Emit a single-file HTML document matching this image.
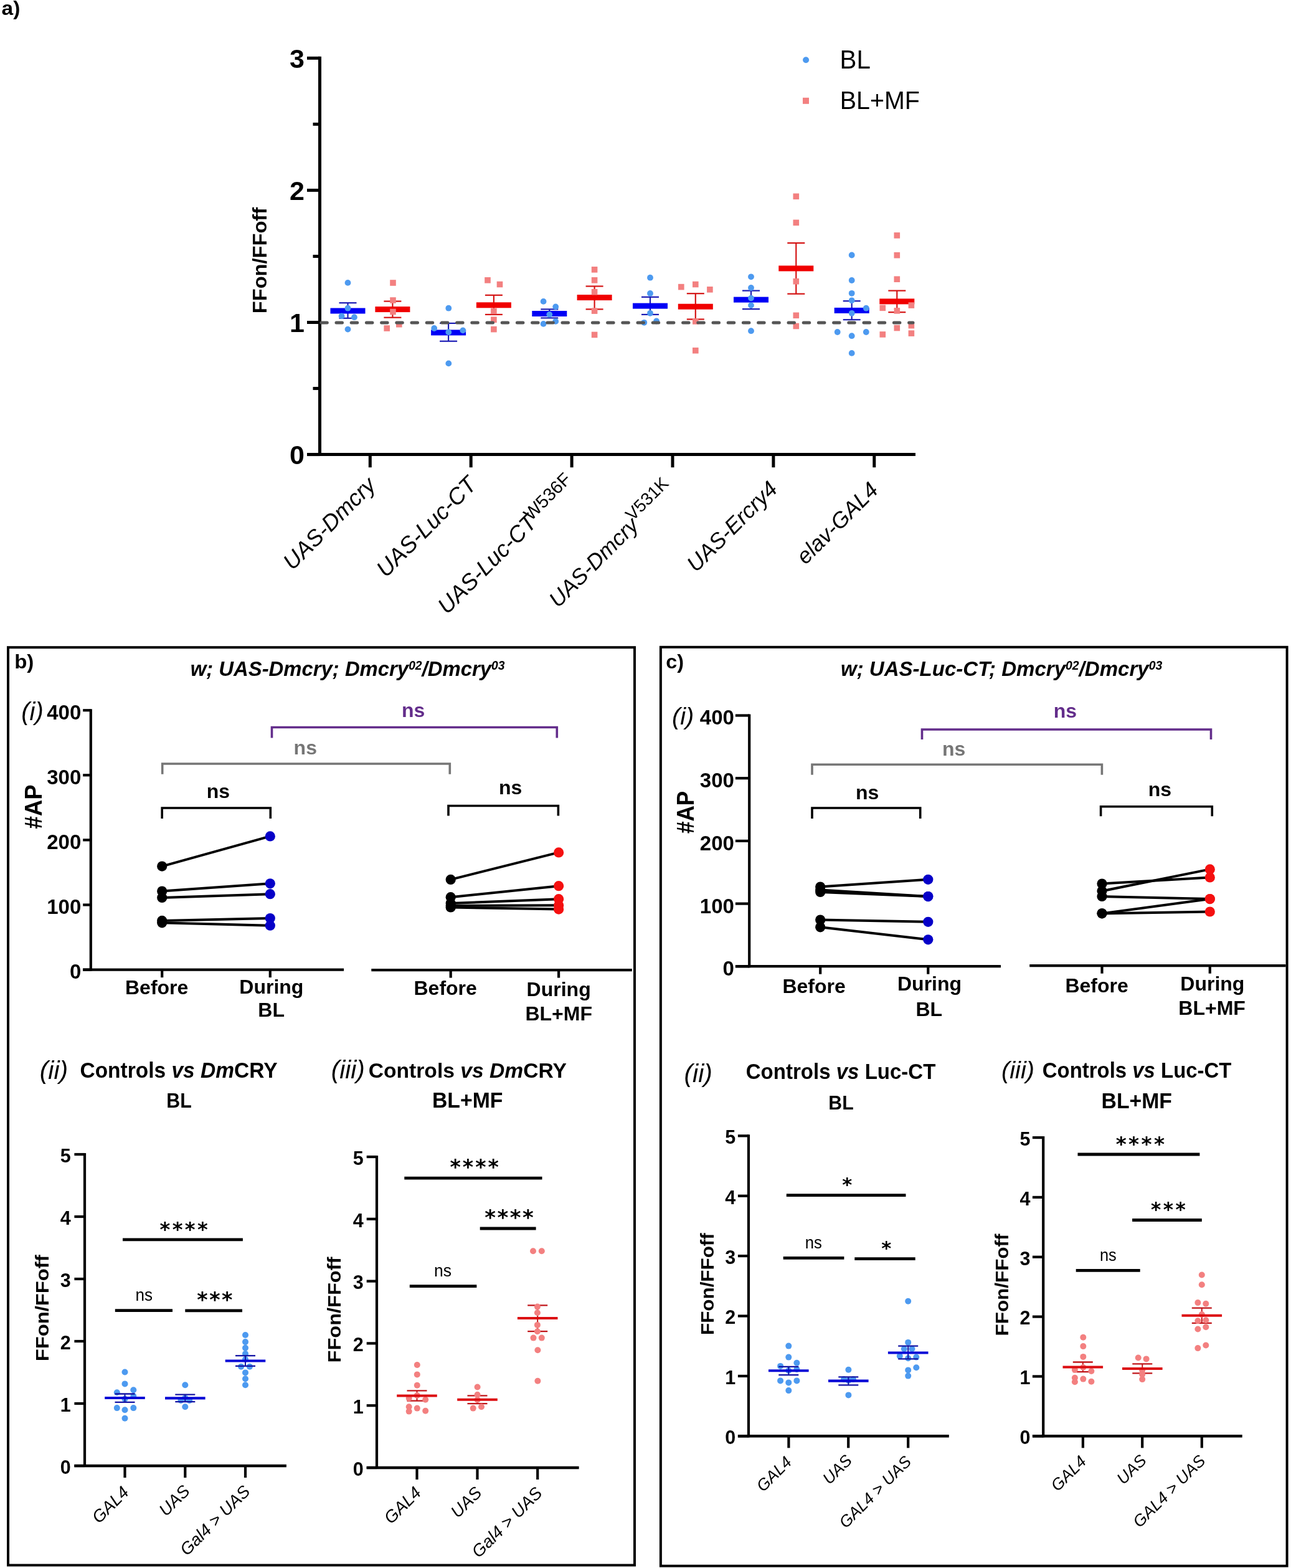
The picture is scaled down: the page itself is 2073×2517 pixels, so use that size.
<!DOCTYPE html>
<html><head><meta charset="utf-8"><title>Figure</title><style>html,body{margin:0;padding:0;background:#fff;overflow:hidden;}svg{display:block;}text{white-space:pre;}</style></head><body>
<svg width="2073" height="2517" viewBox="0 0 2073 2517"><rect width="2073" height="2517" fill="#fff"/><g id="shapes"><line x1="513.50" y1="90.80" x2="513.50" y2="732.10" stroke="#000" stroke-width="5" stroke-linecap="butt" />
<line x1="493.00" y1="729.60" x2="513.50" y2="729.60" stroke="#000" stroke-width="5" stroke-linecap="butt" />
<line x1="493.00" y1="517.50" x2="513.50" y2="517.50" stroke="#000" stroke-width="5" stroke-linecap="butt" />
<line x1="493.00" y1="305.40" x2="513.50" y2="305.40" stroke="#000" stroke-width="5" stroke-linecap="butt" />
<line x1="493.00" y1="93.30" x2="513.50" y2="93.30" stroke="#000" stroke-width="5" stroke-linecap="butt" />
<line x1="502.50" y1="623.55" x2="513.50" y2="623.55" stroke="#000" stroke-width="5" stroke-linecap="butt" />
<line x1="502.50" y1="411.45" x2="513.50" y2="411.45" stroke="#000" stroke-width="5" stroke-linecap="butt" />
<line x1="502.50" y1="199.35" x2="513.50" y2="199.35" stroke="#000" stroke-width="5" stroke-linecap="butt" />
<line x1="493.20" y1="729.60" x2="1470.00" y2="729.60" stroke="#000" stroke-width="5" stroke-linecap="butt" />
<line x1="594.30" y1="729.60" x2="594.30" y2="750.30" stroke="#000" stroke-width="5" stroke-linecap="butt" />
<line x1="756.20" y1="729.60" x2="756.20" y2="750.30" stroke="#000" stroke-width="5" stroke-linecap="butt" />
<line x1="918.10" y1="729.60" x2="918.10" y2="750.30" stroke="#000" stroke-width="5" stroke-linecap="butt" />
<line x1="1080.00" y1="729.60" x2="1080.00" y2="750.30" stroke="#000" stroke-width="5" stroke-linecap="butt" />
<line x1="1241.90" y1="729.60" x2="1241.90" y2="750.30" stroke="#000" stroke-width="5" stroke-linecap="butt" />
<line x1="1403.80" y1="729.60" x2="1403.80" y2="750.30" stroke="#000" stroke-width="5" stroke-linecap="butt" />
<line x1="558.50" y1="486.20" x2="558.50" y2="510.80" stroke="#1a1ab4" stroke-width="2.2" stroke-linecap="butt" />
<line x1="544.50" y1="486.20" x2="572.50" y2="486.20" stroke="#1a1ab4" stroke-width="2.2" stroke-linecap="butt" />
<line x1="544.50" y1="510.80" x2="572.50" y2="510.80" stroke="#1a1ab4" stroke-width="2.2" stroke-linecap="butt" />
<rect x="530.50" y="494.50" width="56.00" height="9.00" fill="#0000f5"/>
<line x1="630.40" y1="483.60" x2="630.40" y2="509.70" stroke="#d41414" stroke-width="2.2" stroke-linecap="butt" />
<line x1="616.40" y1="483.60" x2="644.40" y2="483.60" stroke="#d41414" stroke-width="2.2" stroke-linecap="butt" />
<line x1="616.40" y1="509.70" x2="644.40" y2="509.70" stroke="#d41414" stroke-width="2.2" stroke-linecap="butt" />
<rect x="602.40" y="492.10" width="56.00" height="9.00" fill="#f00000"/>
<line x1="720.10" y1="518.90" x2="720.10" y2="547.70" stroke="#1a1ab4" stroke-width="2.2" stroke-linecap="butt" />
<line x1="706.10" y1="518.90" x2="734.10" y2="518.90" stroke="#1a1ab4" stroke-width="2.2" stroke-linecap="butt" />
<line x1="706.10" y1="547.70" x2="734.10" y2="547.70" stroke="#1a1ab4" stroke-width="2.2" stroke-linecap="butt" />
<rect x="692.10" y="529.40" width="56.00" height="9.00" fill="#0000f5"/>
<line x1="792.90" y1="473.80" x2="792.90" y2="504.90" stroke="#d41414" stroke-width="2.2" stroke-linecap="butt" />
<line x1="778.90" y1="473.80" x2="806.90" y2="473.80" stroke="#d41414" stroke-width="2.2" stroke-linecap="butt" />
<line x1="778.90" y1="504.90" x2="806.90" y2="504.90" stroke="#d41414" stroke-width="2.2" stroke-linecap="butt" />
<rect x="764.90" y="485.30" width="56.00" height="9.00" fill="#f00000"/>
<line x1="882.30" y1="496.40" x2="882.30" y2="510.40" stroke="#1a1ab4" stroke-width="2.2" stroke-linecap="butt" />
<line x1="868.30" y1="496.40" x2="896.30" y2="496.40" stroke="#1a1ab4" stroke-width="2.2" stroke-linecap="butt" />
<line x1="868.30" y1="510.40" x2="896.30" y2="510.40" stroke="#1a1ab4" stroke-width="2.2" stroke-linecap="butt" />
<rect x="854.30" y="499.00" width="56.00" height="9.00" fill="#0000f5"/>
<line x1="954.60" y1="459.50" x2="954.60" y2="496.40" stroke="#d41414" stroke-width="2.2" stroke-linecap="butt" />
<line x1="940.60" y1="459.50" x2="968.60" y2="459.50" stroke="#d41414" stroke-width="2.2" stroke-linecap="butt" />
<line x1="940.60" y1="496.40" x2="968.60" y2="496.40" stroke="#d41414" stroke-width="2.2" stroke-linecap="butt" />
<rect x="926.60" y="473.10" width="56.00" height="9.00" fill="#f00000"/>
<line x1="1044.00" y1="476.80" x2="1044.00" y2="504.90" stroke="#1a1ab4" stroke-width="2.2" stroke-linecap="butt" />
<line x1="1030.00" y1="476.80" x2="1058.00" y2="476.80" stroke="#1a1ab4" stroke-width="2.2" stroke-linecap="butt" />
<line x1="1030.00" y1="504.90" x2="1058.00" y2="504.90" stroke="#1a1ab4" stroke-width="2.2" stroke-linecap="butt" />
<rect x="1016.00" y="486.60" width="56.00" height="9.00" fill="#0000f5"/>
<line x1="1116.80" y1="471.20" x2="1116.80" y2="512.50" stroke="#d41414" stroke-width="2.2" stroke-linecap="butt" />
<line x1="1102.80" y1="471.20" x2="1130.80" y2="471.20" stroke="#d41414" stroke-width="2.2" stroke-linecap="butt" />
<line x1="1102.80" y1="512.50" x2="1130.80" y2="512.50" stroke="#d41414" stroke-width="2.2" stroke-linecap="butt" />
<rect x="1088.80" y="487.70" width="56.00" height="9.00" fill="#f00000"/>
<line x1="1206.00" y1="466.60" x2="1206.00" y2="496.10" stroke="#1a1ab4" stroke-width="2.2" stroke-linecap="butt" />
<line x1="1192.00" y1="466.60" x2="1220.00" y2="466.60" stroke="#1a1ab4" stroke-width="2.2" stroke-linecap="butt" />
<line x1="1192.00" y1="496.10" x2="1220.00" y2="496.10" stroke="#1a1ab4" stroke-width="2.2" stroke-linecap="butt" />
<rect x="1178.00" y="476.60" width="56.00" height="9.00" fill="#0000f5"/>
<line x1="1278.30" y1="390.10" x2="1278.30" y2="471.70" stroke="#d41414" stroke-width="2.2" stroke-linecap="butt" />
<line x1="1264.30" y1="390.10" x2="1292.30" y2="390.10" stroke="#d41414" stroke-width="2.2" stroke-linecap="butt" />
<line x1="1264.30" y1="471.70" x2="1292.30" y2="471.70" stroke="#d41414" stroke-width="2.2" stroke-linecap="butt" />
<rect x="1250.30" y="426.40" width="56.00" height="9.00" fill="#f00000"/>
<line x1="1367.70" y1="483.20" x2="1367.70" y2="513.20" stroke="#1a1ab4" stroke-width="2.2" stroke-linecap="butt" />
<line x1="1353.70" y1="483.20" x2="1381.70" y2="483.20" stroke="#1a1ab4" stroke-width="2.2" stroke-linecap="butt" />
<line x1="1353.70" y1="513.20" x2="1381.70" y2="513.20" stroke="#1a1ab4" stroke-width="2.2" stroke-linecap="butt" />
<rect x="1339.70" y="493.90" width="56.00" height="9.00" fill="#0000f5"/>
<line x1="1440.30" y1="466.60" x2="1440.30" y2="501.20" stroke="#d41414" stroke-width="2.2" stroke-linecap="butt" />
<line x1="1426.30" y1="466.60" x2="1454.30" y2="466.60" stroke="#d41414" stroke-width="2.2" stroke-linecap="butt" />
<line x1="1426.30" y1="501.20" x2="1454.30" y2="501.20" stroke="#d41414" stroke-width="2.2" stroke-linecap="butt" />
<rect x="1412.30" y="479.40" width="56.00" height="9.00" fill="#f00000"/>
<circle cx="558.50" cy="453.90" r="4.9" fill="#4d9af0"/>
<circle cx="558.50" cy="494.70" r="4.9" fill="#4d9af0"/>
<circle cx="548.60" cy="507.40" r="4.9" fill="#4d9af0"/>
<circle cx="568.90" cy="509.20" r="4.9" fill="#4d9af0"/>
<circle cx="558.50" cy="528.60" r="4.9" fill="#4d9af0"/>
<rect x="626.20" y="449.20" width="9.6" height="9.6" fill="#f38080"/>
<rect x="626.20" y="477.20" width="9.6" height="9.6" fill="#f38080"/>
<rect x="626.20" y="495.70" width="9.6" height="9.6" fill="#f38080"/>
<rect x="616.40" y="522.20" width="9.6" height="9.6" fill="#f38080"/>
<rect x="636.00" y="515.90" width="9.6" height="9.6" fill="#f38080"/>
<circle cx="697.20" cy="527.00" r="4.9" fill="#4d9af0"/>
<circle cx="720.30" cy="533.20" r="4.9" fill="#4d9af0"/>
<circle cx="743.30" cy="530.40" r="4.9" fill="#4d9af0"/>
<circle cx="720.30" cy="494.70" r="4.9" fill="#4d9af0"/>
<circle cx="720.30" cy="583.40" r="4.9" fill="#4d9af0"/>
<rect x="778.20" y="445.00" width="9.6" height="9.6" fill="#f38080"/>
<rect x="797.70" y="451.70" width="9.6" height="9.6" fill="#f38080"/>
<rect x="788.10" y="494.60" width="9.6" height="9.6" fill="#f38080"/>
<rect x="788.10" y="508.40" width="9.6" height="9.6" fill="#f38080"/>
<rect x="788.10" y="523.80" width="9.6" height="9.6" fill="#f38080"/>
<circle cx="872.60" cy="483.90" r="4.9" fill="#4d9af0"/>
<circle cx="892.20" cy="492.40" r="4.9" fill="#4d9af0"/>
<circle cx="882.30" cy="504.90" r="4.9" fill="#4d9af0"/>
<circle cx="892.20" cy="515.90" r="4.9" fill="#4d9af0"/>
<circle cx="872.60" cy="519.90" r="4.9" fill="#4d9af0"/>
<rect x="949.80" y="428.00" width="9.6" height="9.6" fill="#f38080"/>
<rect x="949.80" y="445.00" width="9.6" height="9.6" fill="#f38080"/>
<rect x="949.80" y="463.90" width="9.6" height="9.6" fill="#f38080"/>
<rect x="949.80" y="494.30" width="9.6" height="9.6" fill="#f38080"/>
<rect x="949.80" y="532.60" width="9.6" height="9.6" fill="#f38080"/>
<circle cx="1044.00" cy="445.70" r="4.9" fill="#4d9af0"/>
<circle cx="1044.00" cy="471.00" r="4.9" fill="#4d9af0"/>
<circle cx="1044.00" cy="502.80" r="4.9" fill="#4d9af0"/>
<circle cx="1054.10" cy="515.50" r="4.9" fill="#4d9af0"/>
<circle cx="1034.30" cy="517.80" r="4.9" fill="#4d9af0"/>
<rect x="1089.00" y="455.80" width="9.6" height="9.6" fill="#f38080"/>
<rect x="1112.00" y="451.70" width="9.6" height="9.6" fill="#f38080"/>
<rect x="1135.10" y="460.00" width="9.6" height="9.6" fill="#f38080"/>
<rect x="1112.00" y="511.10" width="9.6" height="9.6" fill="#f38080"/>
<rect x="1112.00" y="557.90" width="9.6" height="9.6" fill="#f38080"/>
<circle cx="1206.00" cy="444.30" r="4.9" fill="#4d9af0"/>
<circle cx="1206.00" cy="462.00" r="4.9" fill="#4d9af0"/>
<circle cx="1206.00" cy="478.60" r="4.9" fill="#4d9af0"/>
<circle cx="1206.00" cy="490.10" r="4.9" fill="#4d9af0"/>
<circle cx="1206.00" cy="531.20" r="4.9" fill="#4d9af0"/>
<rect x="1273.50" y="310.50" width="9.6" height="9.6" fill="#f38080"/>
<rect x="1273.50" y="352.60" width="9.6" height="9.6" fill="#f38080"/>
<rect x="1273.50" y="446.90" width="9.6" height="9.6" fill="#f38080"/>
<rect x="1273.50" y="501.50" width="9.6" height="9.6" fill="#f38080"/>
<rect x="1273.50" y="518.70" width="9.6" height="9.6" fill="#f38080"/>
<circle cx="1367.70" cy="409.50" r="4.9" fill="#4d9af0"/>
<circle cx="1367.70" cy="450.00" r="4.9" fill="#4d9af0"/>
<circle cx="1367.70" cy="470.80" r="4.9" fill="#4d9af0"/>
<circle cx="1367.70" cy="482.30" r="4.9" fill="#4d9af0"/>
<circle cx="1390.80" cy="494.70" r="4.9" fill="#4d9af0"/>
<circle cx="1367.70" cy="502.80" r="4.9" fill="#4d9af0"/>
<circle cx="1344.70" cy="533.00" r="4.9" fill="#4d9af0"/>
<circle cx="1390.80" cy="533.00" r="4.9" fill="#4d9af0"/>
<circle cx="1367.70" cy="539.20" r="4.9" fill="#4d9af0"/>
<circle cx="1367.70" cy="566.90" r="4.9" fill="#4d9af0"/>
<rect x="1435.50" y="373.10" width="9.6" height="9.6" fill="#f38080"/>
<rect x="1435.50" y="404.90" width="9.6" height="9.6" fill="#f38080"/>
<rect x="1435.50" y="443.40" width="9.6" height="9.6" fill="#f38080"/>
<rect x="1412.50" y="489.50" width="9.6" height="9.6" fill="#f38080"/>
<rect x="1458.60" y="485.30" width="9.6" height="9.6" fill="#f38080"/>
<rect x="1435.50" y="494.10" width="9.6" height="9.6" fill="#f38080"/>
<rect x="1458.60" y="517.80" width="9.6" height="9.6" fill="#f38080"/>
<rect x="1435.50" y="521.70" width="9.6" height="9.6" fill="#f38080"/>
<rect x="1412.50" y="532.10" width="9.6" height="9.6" fill="#f38080"/>
<rect x="1458.60" y="530.30" width="9.6" height="9.6" fill="#f38080"/>
<line x1="513.60" y1="517.90" x2="1466.00" y2="517.90" stroke="#555555" stroke-width="5" stroke-linecap="round" stroke-dasharray="9.5 14.7" stroke-dashoffset="22.0"/>
<circle cx="1294.10" cy="96.30" r="5.0" fill="#4d9af0"/>
<rect x="1289.00" y="156.80" width="10.0" height="10.0" fill="#f38080"/>
<rect x="13.0" y="1039.2" width="1006.0" height="1473.3" fill="none" stroke="#000" stroke-width="4"/>
<rect x="1060.9" y="1038.8" width="1005.7" height="1474.9" fill="none" stroke="#000" stroke-width="4"/>
<line x1="145.80" y1="1138.20" x2="145.80" y2="1558.60" stroke="#000" stroke-width="4.2" stroke-linecap="butt" />
<line x1="133.20" y1="1556.60" x2="145.80" y2="1556.60" stroke="#000" stroke-width="4.2" stroke-linecap="butt" />
<line x1="133.20" y1="1452.50" x2="145.80" y2="1452.50" stroke="#000" stroke-width="4.2" stroke-linecap="butt" />
<line x1="133.20" y1="1348.40" x2="145.80" y2="1348.40" stroke="#000" stroke-width="4.2" stroke-linecap="butt" />
<line x1="133.20" y1="1244.30" x2="145.80" y2="1244.30" stroke="#000" stroke-width="4.2" stroke-linecap="butt" />
<line x1="133.20" y1="1140.20" x2="145.80" y2="1140.20" stroke="#000" stroke-width="4.2" stroke-linecap="butt" />
<line x1="133.20" y1="1556.60" x2="552.10" y2="1556.60" stroke="#000" stroke-width="4.2" stroke-linecap="butt" />
<line x1="596.30" y1="1557.10" x2="1014.80" y2="1557.10" stroke="#000" stroke-width="4.2" stroke-linecap="butt" />
<line x1="260.20" y1="1556.60" x2="260.20" y2="1569.10" stroke="#000" stroke-width="4.2" stroke-linecap="butt" />
<line x1="433.80" y1="1556.60" x2="433.80" y2="1569.10" stroke="#000" stroke-width="4.2" stroke-linecap="butt" />
<line x1="723.70" y1="1557.10" x2="723.70" y2="1569.60" stroke="#000" stroke-width="4.2" stroke-linecap="butt" />
<line x1="897.10" y1="1557.10" x2="897.10" y2="1569.60" stroke="#000" stroke-width="4.2" stroke-linecap="butt" />
<line x1="260.20" y1="1390.60" x2="433.80" y2="1342.40" stroke="#000" stroke-width="4.0" stroke-linecap="butt" />
<line x1="260.20" y1="1430.50" x2="433.80" y2="1418.30" stroke="#000" stroke-width="4.0" stroke-linecap="butt" />
<line x1="260.20" y1="1440.90" x2="433.80" y2="1435.20" stroke="#000" stroke-width="4.0" stroke-linecap="butt" />
<line x1="260.20" y1="1477.90" x2="433.80" y2="1474.00" stroke="#000" stroke-width="4.0" stroke-linecap="butt" />
<line x1="260.20" y1="1481.30" x2="433.80" y2="1485.70" stroke="#000" stroke-width="4.0" stroke-linecap="butt" />
<line x1="723.70" y1="1411.90" x2="897.10" y2="1368.40" stroke="#000" stroke-width="4.0" stroke-linecap="butt" />
<line x1="723.70" y1="1440.20" x2="897.10" y2="1422.20" stroke="#000" stroke-width="4.0" stroke-linecap="butt" />
<line x1="723.70" y1="1450.10" x2="897.10" y2="1443.20" stroke="#000" stroke-width="4.0" stroke-linecap="butt" />
<line x1="723.70" y1="1453.90" x2="897.10" y2="1453.30" stroke="#000" stroke-width="4.0" stroke-linecap="butt" />
<line x1="723.70" y1="1456.50" x2="897.10" y2="1459.60" stroke="#000" stroke-width="4.0" stroke-linecap="butt" />
<circle cx="260.20" cy="1390.60" r="8.1" fill="#000"/>
<circle cx="260.20" cy="1430.50" r="8.1" fill="#000"/>
<circle cx="260.20" cy="1440.90" r="8.1" fill="#000"/>
<circle cx="260.20" cy="1477.90" r="8.1" fill="#000"/>
<circle cx="260.20" cy="1481.30" r="8.1" fill="#000"/>
<circle cx="433.80" cy="1342.40" r="8.1" fill="#0600c8"/>
<circle cx="433.80" cy="1418.30" r="8.1" fill="#0600c8"/>
<circle cx="433.80" cy="1435.20" r="8.1" fill="#0600c8"/>
<circle cx="433.80" cy="1474.00" r="8.1" fill="#0600c8"/>
<circle cx="433.80" cy="1485.70" r="8.1" fill="#0600c8"/>
<circle cx="723.70" cy="1411.90" r="8.1" fill="#000"/>
<circle cx="723.70" cy="1440.20" r="8.1" fill="#000"/>
<circle cx="723.70" cy="1450.10" r="8.1" fill="#000"/>
<circle cx="723.70" cy="1453.90" r="8.1" fill="#000"/>
<circle cx="723.70" cy="1456.50" r="8.1" fill="#000"/>
<circle cx="897.10" cy="1368.40" r="8.1" fill="#f51010"/>
<circle cx="897.10" cy="1422.20" r="8.1" fill="#f51010"/>
<circle cx="897.10" cy="1443.20" r="8.1" fill="#f51010"/>
<circle cx="897.10" cy="1453.30" r="8.1" fill="#f51010"/>
<circle cx="897.10" cy="1459.60" r="8.1" fill="#f51010"/>
<polyline points="260.20,1313.90 260.20,1297.00 434.30,1297.00 434.30,1313.90" fill="none" stroke="#000" stroke-width="3.6" stroke-linejoin="miter"/>
<polyline points="720.00,1309.40 720.00,1293.50 896.40,1293.50 896.40,1309.40" fill="none" stroke="#000" stroke-width="3.6" stroke-linejoin="miter"/>
<polyline points="260.70,1242.70 260.70,1226.00 722.30,1226.00 722.30,1242.70" fill="none" stroke="#767676" stroke-width="3.6" stroke-linejoin="miter"/>
<polyline points="436.50,1184.60 436.50,1167.50 894.30,1167.50 894.30,1184.60" fill="none" stroke="#632d8b" stroke-width="3.6" stroke-linejoin="miter"/>
<line x1="1203.20" y1="1146.50" x2="1203.20" y2="1553.30" stroke="#000" stroke-width="4.2" stroke-linecap="butt" />
<line x1="1180.90" y1="1551.30" x2="1203.20" y2="1551.30" stroke="#000" stroke-width="4.2" stroke-linecap="butt" />
<line x1="1180.90" y1="1450.60" x2="1203.20" y2="1450.60" stroke="#000" stroke-width="4.2" stroke-linecap="butt" />
<line x1="1180.90" y1="1349.90" x2="1203.20" y2="1349.90" stroke="#000" stroke-width="4.2" stroke-linecap="butt" />
<line x1="1180.90" y1="1249.20" x2="1203.20" y2="1249.20" stroke="#000" stroke-width="4.2" stroke-linecap="butt" />
<line x1="1180.90" y1="1148.50" x2="1203.20" y2="1148.50" stroke="#000" stroke-width="4.2" stroke-linecap="butt" />
<line x1="1180.90" y1="1551.20" x2="1607.00" y2="1551.20" stroke="#000" stroke-width="4.2" stroke-linecap="butt" />
<line x1="1653.20" y1="1550.20" x2="2064.60" y2="1550.20" stroke="#000" stroke-width="4.2" stroke-linecap="butt" />
<line x1="1317.20" y1="1551.20" x2="1317.20" y2="1563.70" stroke="#000" stroke-width="4.2" stroke-linecap="butt" />
<line x1="1490.30" y1="1551.20" x2="1490.30" y2="1563.70" stroke="#000" stroke-width="4.2" stroke-linecap="butt" />
<line x1="1769.50" y1="1550.20" x2="1769.50" y2="1562.70" stroke="#000" stroke-width="4.2" stroke-linecap="butt" />
<line x1="1942.80" y1="1550.20" x2="1942.80" y2="1562.70" stroke="#000" stroke-width="4.2" stroke-linecap="butt" />
<line x1="1317.20" y1="1423.50" x2="1490.30" y2="1411.80" stroke="#000" stroke-width="4.0" stroke-linecap="butt" />
<line x1="1317.20" y1="1428.50" x2="1490.30" y2="1439.10" stroke="#000" stroke-width="4.0" stroke-linecap="butt" />
<line x1="1317.20" y1="1432.00" x2="1490.30" y2="1439.10" stroke="#000" stroke-width="4.0" stroke-linecap="butt" />
<line x1="1317.20" y1="1476.60" x2="1490.30" y2="1479.80" stroke="#000" stroke-width="4.0" stroke-linecap="butt" />
<line x1="1317.20" y1="1488.30" x2="1490.30" y2="1508.30" stroke="#000" stroke-width="4.0" stroke-linecap="butt" />
<line x1="1769.50" y1="1418.60" x2="1942.80" y2="1408.50" stroke="#000" stroke-width="4.0" stroke-linecap="butt" />
<line x1="1769.50" y1="1430.30" x2="1942.80" y2="1395.40" stroke="#000" stroke-width="4.0" stroke-linecap="butt" />
<line x1="1769.50" y1="1439.00" x2="1942.80" y2="1443.10" stroke="#000" stroke-width="4.0" stroke-linecap="butt" />
<line x1="1769.50" y1="1466.30" x2="1942.80" y2="1443.10" stroke="#000" stroke-width="4.0" stroke-linecap="butt" />
<line x1="1769.50" y1="1466.30" x2="1942.80" y2="1463.50" stroke="#000" stroke-width="4.0" stroke-linecap="butt" />
<circle cx="1317.20" cy="1423.50" r="8.1" fill="#000"/>
<circle cx="1317.20" cy="1428.50" r="8.1" fill="#000"/>
<circle cx="1317.20" cy="1432.00" r="8.1" fill="#000"/>
<circle cx="1317.20" cy="1476.60" r="8.1" fill="#000"/>
<circle cx="1317.20" cy="1488.30" r="8.1" fill="#000"/>
<circle cx="1490.30" cy="1411.80" r="8.1" fill="#0600c8"/>
<circle cx="1490.30" cy="1439.10" r="8.1" fill="#0600c8"/>
<circle cx="1490.30" cy="1439.10" r="8.1" fill="#0600c8"/>
<circle cx="1490.30" cy="1479.80" r="8.1" fill="#0600c8"/>
<circle cx="1490.30" cy="1508.30" r="8.1" fill="#0600c8"/>
<circle cx="1769.50" cy="1418.60" r="8.1" fill="#000"/>
<circle cx="1769.50" cy="1430.30" r="8.1" fill="#000"/>
<circle cx="1769.50" cy="1439.00" r="8.1" fill="#000"/>
<circle cx="1769.50" cy="1466.30" r="8.1" fill="#000"/>
<circle cx="1769.50" cy="1466.30" r="8.1" fill="#000"/>
<circle cx="1942.80" cy="1408.50" r="8.1" fill="#f51010"/>
<circle cx="1942.80" cy="1395.40" r="8.1" fill="#f51010"/>
<circle cx="1942.80" cy="1443.10" r="8.1" fill="#f51010"/>
<circle cx="1942.80" cy="1443.10" r="8.1" fill="#f51010"/>
<circle cx="1942.80" cy="1463.50" r="8.1" fill="#f51010"/>
<polyline points="1304.00,1313.90 1304.00,1297.00 1477.70,1297.00 1477.70,1313.90" fill="none" stroke="#000" stroke-width="3.6" stroke-linejoin="miter"/>
<polyline points="1767.60,1310.20 1767.60,1294.80 1946.30,1294.80 1946.30,1310.20" fill="none" stroke="#000" stroke-width="3.6" stroke-linejoin="miter"/>
<polyline points="1304.00,1243.80 1304.00,1227.30 1769.40,1227.30 1769.40,1243.80" fill="none" stroke="#767676" stroke-width="3.6" stroke-linejoin="miter"/>
<polyline points="1480.50,1187.10 1480.50,1171.00 1944.50,1171.00 1944.50,1187.10" fill="none" stroke="#632d8b" stroke-width="3.6" stroke-linejoin="miter"/>
<line x1="136.00" y1="1851.00" x2="136.00" y2="2355.00" stroke="#000" stroke-width="4.2" stroke-linecap="butt" />
<line x1="119.40" y1="2353.00" x2="136.00" y2="2353.00" stroke="#000" stroke-width="4.2" stroke-linecap="butt" />
<line x1="119.40" y1="2253.00" x2="136.00" y2="2253.00" stroke="#000" stroke-width="4.2" stroke-linecap="butt" />
<line x1="119.40" y1="2153.00" x2="136.00" y2="2153.00" stroke="#000" stroke-width="4.2" stroke-linecap="butt" />
<line x1="119.40" y1="2053.00" x2="136.00" y2="2053.00" stroke="#000" stroke-width="4.2" stroke-linecap="butt" />
<line x1="119.40" y1="1953.00" x2="136.00" y2="1953.00" stroke="#000" stroke-width="4.2" stroke-linecap="butt" />
<line x1="119.40" y1="1853.00" x2="136.00" y2="1853.00" stroke="#000" stroke-width="4.2" stroke-linecap="butt" />
<line x1="119.40" y1="2353.00" x2="459.90" y2="2353.00" stroke="#000" stroke-width="4.6" stroke-linecap="butt" />
<line x1="200.50" y1="2353.00" x2="200.50" y2="2372.00" stroke="#000" stroke-width="4.2" stroke-linecap="butt" />
<line x1="297.30" y1="2353.00" x2="297.30" y2="2372.00" stroke="#000" stroke-width="4.2" stroke-linecap="butt" />
<line x1="394.00" y1="2353.00" x2="394.00" y2="2372.00" stroke="#000" stroke-width="4.2" stroke-linecap="butt" />
<circle cx="200.50" cy="2202.50" r="5.0" fill="#4d9af0"/>
<circle cx="200.50" cy="2221.40" r="5.0" fill="#4d9af0"/>
<circle cx="214.30" cy="2231.30" r="5.0" fill="#4d9af0"/>
<circle cx="187.80" cy="2235.20" r="5.0" fill="#4d9af0"/>
<circle cx="214.30" cy="2241.00" r="5.0" fill="#4d9af0"/>
<circle cx="200.50" cy="2245.60" r="5.0" fill="#4d9af0"/>
<circle cx="187.80" cy="2260.10" r="5.0" fill="#4d9af0"/>
<circle cx="214.30" cy="2260.10" r="5.0" fill="#4d9af0"/>
<circle cx="200.50" cy="2263.30" r="5.0" fill="#4d9af0"/>
<circle cx="200.50" cy="2276.70" r="5.0" fill="#4d9af0"/>
<circle cx="297.30" cy="2223.20" r="5.0" fill="#4d9af0"/>
<circle cx="290.40" cy="2247.90" r="5.0" fill="#4d9af0"/>
<circle cx="304.20" cy="2247.90" r="5.0" fill="#4d9af0"/>
<circle cx="297.30" cy="2244.00" r="5.0" fill="#4d9af0"/>
<circle cx="297.30" cy="2258.20" r="5.0" fill="#4d9af0"/>
<circle cx="394.00" cy="2143.00" r="5.0" fill="#4d9af0"/>
<circle cx="394.00" cy="2154.10" r="5.0" fill="#4d9af0"/>
<circle cx="394.00" cy="2163.80" r="5.0" fill="#4d9af0"/>
<circle cx="394.00" cy="2173.00" r="5.0" fill="#4d9af0"/>
<circle cx="394.00" cy="2182.00" r="5.0" fill="#4d9af0"/>
<circle cx="387.10" cy="2193.70" r="5.0" fill="#4d9af0"/>
<circle cx="400.90" cy="2193.70" r="5.0" fill="#4d9af0"/>
<circle cx="394.00" cy="2203.40" r="5.0" fill="#4d9af0"/>
<circle cx="394.00" cy="2213.30" r="5.0" fill="#4d9af0"/>
<circle cx="394.00" cy="2223.20" r="5.0" fill="#4d9af0"/>
<line x1="200.50" y1="2237.50" x2="200.50" y2="2250.90" stroke="#1414a4" stroke-width="2.0" stroke-linecap="butt" />
<line x1="184.50" y1="2237.50" x2="216.50" y2="2237.50" stroke="#1414a4" stroke-width="2.3" stroke-linecap="butt" />
<line x1="184.50" y1="2250.90" x2="216.50" y2="2250.90" stroke="#1414a4" stroke-width="2.3" stroke-linecap="butt" />
<line x1="297.30" y1="2238.70" x2="297.30" y2="2250.20" stroke="#1414a4" stroke-width="2.0" stroke-linecap="butt" />
<line x1="281.30" y1="2238.70" x2="313.30" y2="2238.70" stroke="#1414a4" stroke-width="2.3" stroke-linecap="butt" />
<line x1="281.30" y1="2250.20" x2="313.30" y2="2250.20" stroke="#1414a4" stroke-width="2.3" stroke-linecap="butt" />
<line x1="394.00" y1="2176.20" x2="394.00" y2="2192.80" stroke="#1414a4" stroke-width="2.0" stroke-linecap="butt" />
<line x1="378.00" y1="2176.20" x2="410.00" y2="2176.20" stroke="#1414a4" stroke-width="2.3" stroke-linecap="butt" />
<line x1="378.00" y1="2192.80" x2="410.00" y2="2192.80" stroke="#1414a4" stroke-width="2.3" stroke-linecap="butt" />
<line x1="168.20" y1="2244.00" x2="232.80" y2="2244.00" stroke="#0707d6" stroke-width="4.1" stroke-linecap="butt" />
<line x1="265.00" y1="2244.40" x2="329.60" y2="2244.40" stroke="#0707d6" stroke-width="4.1" stroke-linecap="butt" />
<line x1="361.70" y1="2184.50" x2="426.30" y2="2184.50" stroke="#0707d6" stroke-width="4.1" stroke-linecap="butt" />
<line x1="197.00" y1="1989.80" x2="389.90" y2="1989.80" stroke="#000" stroke-width="4.8" stroke-linecap="butt" />
<line x1="184.80" y1="2103.60" x2="277.00" y2="2103.60" stroke="#000" stroke-width="4.8" stroke-linecap="butt" />
<line x1="297.30" y1="2103.80" x2="389.00" y2="2103.80" stroke="#000" stroke-width="4.8" stroke-linecap="butt" />
<line x1="605.00" y1="1855.00" x2="605.00" y2="2358.00" stroke="#000" stroke-width="4.2" stroke-linecap="butt" />
<line x1="588.70" y1="2356.00" x2="605.00" y2="2356.00" stroke="#000" stroke-width="4.2" stroke-linecap="butt" />
<line x1="588.70" y1="2256.20" x2="605.00" y2="2256.20" stroke="#000" stroke-width="4.2" stroke-linecap="butt" />
<line x1="588.70" y1="2156.40" x2="605.00" y2="2156.40" stroke="#000" stroke-width="4.2" stroke-linecap="butt" />
<line x1="588.70" y1="2056.60" x2="605.00" y2="2056.60" stroke="#000" stroke-width="4.2" stroke-linecap="butt" />
<line x1="588.70" y1="1956.80" x2="605.00" y2="1956.80" stroke="#000" stroke-width="4.2" stroke-linecap="butt" />
<line x1="588.70" y1="1857.00" x2="605.00" y2="1857.00" stroke="#000" stroke-width="4.2" stroke-linecap="butt" />
<line x1="588.70" y1="2356.00" x2="929.60" y2="2356.00" stroke="#000" stroke-width="4.6" stroke-linecap="butt" />
<line x1="669.50" y1="2356.00" x2="669.50" y2="2375.00" stroke="#000" stroke-width="4.2" stroke-linecap="butt" />
<line x1="766.50" y1="2356.00" x2="766.50" y2="2375.00" stroke="#000" stroke-width="4.2" stroke-linecap="butt" />
<line x1="863.20" y1="2356.00" x2="863.20" y2="2375.00" stroke="#000" stroke-width="4.2" stroke-linecap="butt" />
<line x1="669.50" y1="2232.40" x2="669.50" y2="2248.60" stroke="#c01418" stroke-width="2.0" stroke-linecap="butt" />
<line x1="653.50" y1="2232.40" x2="685.50" y2="2232.40" stroke="#c01418" stroke-width="2.3" stroke-linecap="butt" />
<line x1="653.50" y1="2248.60" x2="685.50" y2="2248.60" stroke="#c01418" stroke-width="2.3" stroke-linecap="butt" />
<line x1="766.50" y1="2240.30" x2="766.50" y2="2253.20" stroke="#c01418" stroke-width="2.0" stroke-linecap="butt" />
<line x1="750.50" y1="2240.30" x2="782.50" y2="2240.30" stroke="#c01418" stroke-width="2.3" stroke-linecap="butt" />
<line x1="750.50" y1="2253.20" x2="782.50" y2="2253.20" stroke="#c01418" stroke-width="2.3" stroke-linecap="butt" />
<line x1="863.20" y1="2095.30" x2="863.20" y2="2137.20" stroke="#c01418" stroke-width="2.0" stroke-linecap="butt" />
<line x1="847.20" y1="2095.30" x2="879.20" y2="2095.30" stroke="#c01418" stroke-width="2.3" stroke-linecap="butt" />
<line x1="847.20" y1="2137.20" x2="879.20" y2="2137.20" stroke="#c01418" stroke-width="2.3" stroke-linecap="butt" />
<circle cx="669.80" cy="2191.00" r="5.0" fill="#f38080"/>
<circle cx="669.80" cy="2206.40" r="5.0" fill="#f38080"/>
<circle cx="669.80" cy="2223.70" r="5.0" fill="#f38080"/>
<circle cx="656.70" cy="2244.40" r="5.0" fill="#f38080"/>
<circle cx="669.80" cy="2240.00" r="5.0" fill="#f38080"/>
<circle cx="683.20" cy="2246.70" r="5.0" fill="#f38080"/>
<circle cx="656.70" cy="2258.20" r="5.0" fill="#f38080"/>
<circle cx="669.80" cy="2260.60" r="5.0" fill="#f38080"/>
<circle cx="656.70" cy="2265.60" r="5.0" fill="#f38080"/>
<circle cx="683.20" cy="2264.70" r="5.0" fill="#f38080"/>
<circle cx="766.60" cy="2226.50" r="5.0" fill="#f38080"/>
<circle cx="766.60" cy="2238.70" r="5.0" fill="#f38080"/>
<circle cx="766.60" cy="2247.00" r="5.0" fill="#f38080"/>
<circle cx="759.70" cy="2260.60" r="5.0" fill="#f38080"/>
<circle cx="773.00" cy="2258.20" r="5.0" fill="#f38080"/>
<circle cx="856.00" cy="2008.20" r="5.0" fill="#f38080"/>
<circle cx="869.80" cy="2008.20" r="5.0" fill="#f38080"/>
<circle cx="862.90" cy="2097.60" r="5.0" fill="#f38080"/>
<circle cx="862.90" cy="2107.30" r="5.0" fill="#f38080"/>
<circle cx="862.90" cy="2126.90" r="5.0" fill="#f38080"/>
<circle cx="862.90" cy="2137.20" r="5.0" fill="#f38080"/>
<circle cx="856.50" cy="2147.60" r="5.0" fill="#f38080"/>
<circle cx="869.80" cy="2147.60" r="5.0" fill="#f38080"/>
<circle cx="863.40" cy="2167.20" r="5.0" fill="#f38080"/>
<circle cx="863.40" cy="2216.80" r="5.0" fill="#f38080"/>
<line x1="637.20" y1="2240.50" x2="701.80" y2="2240.50" stroke="#dc0c10" stroke-width="4.1" stroke-linecap="butt" />
<line x1="734.20" y1="2246.70" x2="798.80" y2="2246.70" stroke="#dc0c10" stroke-width="4.1" stroke-linecap="butt" />
<line x1="830.90" y1="2116.00" x2="895.50" y2="2116.00" stroke="#dc0c10" stroke-width="4.1" stroke-linecap="butt" />
<line x1="649.30" y1="1891.20" x2="870.50" y2="1891.20" stroke="#000" stroke-width="4.8" stroke-linecap="butt" />
<line x1="770.70" y1="1972.00" x2="860.60" y2="1972.00" stroke="#000" stroke-width="4.8" stroke-linecap="butt" />
<line x1="657.80" y1="2064.70" x2="765.40" y2="2064.70" stroke="#000" stroke-width="4.8" stroke-linecap="butt" />
<line x1="1202.00" y1="1821.30" x2="1202.00" y2="2307.30" stroke="#000" stroke-width="4.2" stroke-linecap="butt" />
<line x1="1184.90" y1="2305.30" x2="1202.00" y2="2305.30" stroke="#000" stroke-width="4.2" stroke-linecap="butt" />
<line x1="1184.90" y1="2208.90" x2="1202.00" y2="2208.90" stroke="#000" stroke-width="4.2" stroke-linecap="butt" />
<line x1="1184.90" y1="2112.50" x2="1202.00" y2="2112.50" stroke="#000" stroke-width="4.2" stroke-linecap="butt" />
<line x1="1184.90" y1="2016.10" x2="1202.00" y2="2016.10" stroke="#000" stroke-width="4.2" stroke-linecap="butt" />
<line x1="1184.90" y1="1919.70" x2="1202.00" y2="1919.70" stroke="#000" stroke-width="4.2" stroke-linecap="butt" />
<line x1="1184.90" y1="1823.30" x2="1202.00" y2="1823.30" stroke="#000" stroke-width="4.2" stroke-linecap="butt" />
<line x1="1184.90" y1="2305.30" x2="1523.80" y2="2305.30" stroke="#000" stroke-width="4.6" stroke-linecap="butt" />
<line x1="1266.40" y1="2305.30" x2="1266.40" y2="2324.30" stroke="#000" stroke-width="4.2" stroke-linecap="butt" />
<line x1="1362.20" y1="2305.30" x2="1362.20" y2="2324.30" stroke="#000" stroke-width="4.2" stroke-linecap="butt" />
<line x1="1458.20" y1="2305.30" x2="1458.20" y2="2324.30" stroke="#000" stroke-width="4.2" stroke-linecap="butt" />
<circle cx="1266.30" cy="2160.60" r="5.0" fill="#4d9af0"/>
<circle cx="1266.30" cy="2178.60" r="5.0" fill="#4d9af0"/>
<circle cx="1279.40" cy="2187.80" r="5.0" fill="#4d9af0"/>
<circle cx="1253.10" cy="2192.90" r="5.0" fill="#4d9af0"/>
<circle cx="1279.40" cy="2198.00" r="5.0" fill="#4d9af0"/>
<circle cx="1266.30" cy="2200.00" r="5.0" fill="#4d9af0"/>
<circle cx="1253.10" cy="2216.40" r="5.0" fill="#4d9af0"/>
<circle cx="1279.40" cy="2216.40" r="5.0" fill="#4d9af0"/>
<circle cx="1266.30" cy="2219.40" r="5.0" fill="#4d9af0"/>
<circle cx="1266.30" cy="2232.10" r="5.0" fill="#4d9af0"/>
<circle cx="1362.40" cy="2198.70" r="5.0" fill="#4d9af0"/>
<circle cx="1355.00" cy="2214.00" r="5.0" fill="#4d9af0"/>
<circle cx="1370.00" cy="2214.00" r="5.0" fill="#4d9af0"/>
<circle cx="1362.40" cy="2216.00" r="5.0" fill="#4d9af0"/>
<circle cx="1362.40" cy="2239.40" r="5.0" fill="#4d9af0"/>
<circle cx="1458.20" cy="2088.80" r="5.0" fill="#4d9af0"/>
<circle cx="1458.20" cy="2154.90" r="5.0" fill="#4d9af0"/>
<circle cx="1451.80" cy="2165.30" r="5.0" fill="#4d9af0"/>
<circle cx="1464.40" cy="2165.30" r="5.0" fill="#4d9af0"/>
<circle cx="1444.80" cy="2176.80" r="5.0" fill="#4d9af0"/>
<circle cx="1471.30" cy="2178.60" r="5.0" fill="#4d9af0"/>
<circle cx="1458.20" cy="2180.20" r="5.0" fill="#4d9af0"/>
<circle cx="1471.30" cy="2195.20" r="5.0" fill="#4d9af0"/>
<circle cx="1458.20" cy="2199.40" r="5.0" fill="#4d9af0"/>
<circle cx="1458.20" cy="2208.60" r="5.0" fill="#4d9af0"/>
<line x1="1266.30" y1="2193.80" x2="1266.30" y2="2207.20" stroke="#1414a4" stroke-width="2.0" stroke-linecap="butt" />
<line x1="1250.30" y1="2193.80" x2="1282.30" y2="2193.80" stroke="#1414a4" stroke-width="2.3" stroke-linecap="butt" />
<line x1="1250.30" y1="2207.20" x2="1282.30" y2="2207.20" stroke="#1414a4" stroke-width="2.3" stroke-linecap="butt" />
<line x1="1362.30" y1="2210.40" x2="1362.30" y2="2223.30" stroke="#1414a4" stroke-width="2.0" stroke-linecap="butt" />
<line x1="1346.30" y1="2210.40" x2="1378.30" y2="2210.40" stroke="#1414a4" stroke-width="2.3" stroke-linecap="butt" />
<line x1="1346.30" y1="2223.30" x2="1378.30" y2="2223.30" stroke="#1414a4" stroke-width="2.3" stroke-linecap="butt" />
<line x1="1458.20" y1="2160.60" x2="1458.20" y2="2181.40" stroke="#1414a4" stroke-width="2.0" stroke-linecap="butt" />
<line x1="1442.20" y1="2160.60" x2="1474.20" y2="2160.60" stroke="#1414a4" stroke-width="2.3" stroke-linecap="butt" />
<line x1="1442.20" y1="2181.40" x2="1474.20" y2="2181.40" stroke="#1414a4" stroke-width="2.3" stroke-linecap="butt" />
<line x1="1234.00" y1="2200.30" x2="1298.60" y2="2200.30" stroke="#0707d6" stroke-width="4.1" stroke-linecap="butt" />
<line x1="1330.00" y1="2216.60" x2="1394.60" y2="2216.60" stroke="#0707d6" stroke-width="4.1" stroke-linecap="butt" />
<line x1="1425.90" y1="2171.50" x2="1490.50" y2="2171.50" stroke="#0707d6" stroke-width="4.1" stroke-linecap="butt" />
<line x1="1262.80" y1="1918.70" x2="1454.50" y2="1918.70" stroke="#000" stroke-width="4.8" stroke-linecap="butt" />
<line x1="1257.70" y1="2019.30" x2="1355.40" y2="2019.30" stroke="#000" stroke-width="4.8" stroke-linecap="butt" />
<line x1="1372.30" y1="2020.70" x2="1469.70" y2="2020.70" stroke="#000" stroke-width="4.8" stroke-linecap="butt" />
<line x1="1675.20" y1="1824.05" x2="1675.20" y2="2307.30" stroke="#000" stroke-width="4.2" stroke-linecap="butt" />
<line x1="1657.90" y1="2305.30" x2="1675.20" y2="2305.30" stroke="#000" stroke-width="4.2" stroke-linecap="butt" />
<line x1="1657.90" y1="2209.45" x2="1675.20" y2="2209.45" stroke="#000" stroke-width="4.2" stroke-linecap="butt" />
<line x1="1657.90" y1="2113.60" x2="1675.20" y2="2113.60" stroke="#000" stroke-width="4.2" stroke-linecap="butt" />
<line x1="1657.90" y1="2017.75" x2="1675.20" y2="2017.75" stroke="#000" stroke-width="4.2" stroke-linecap="butt" />
<line x1="1657.90" y1="1921.90" x2="1675.20" y2="1921.90" stroke="#000" stroke-width="4.2" stroke-linecap="butt" />
<line x1="1657.90" y1="1826.05" x2="1675.20" y2="1826.05" stroke="#000" stroke-width="4.2" stroke-linecap="butt" />
<line x1="1657.90" y1="2305.30" x2="1994.70" y2="2305.30" stroke="#000" stroke-width="4.6" stroke-linecap="butt" />
<line x1="1738.90" y1="2305.30" x2="1738.90" y2="2324.30" stroke="#000" stroke-width="4.2" stroke-linecap="butt" />
<line x1="1834.20" y1="2305.30" x2="1834.20" y2="2324.30" stroke="#000" stroke-width="4.2" stroke-linecap="butt" />
<line x1="1929.80" y1="2305.30" x2="1929.80" y2="2324.30" stroke="#000" stroke-width="4.2" stroke-linecap="butt" />
<line x1="1738.80" y1="2186.50" x2="1738.80" y2="2202.10" stroke="#c01418" stroke-width="2.0" stroke-linecap="butt" />
<line x1="1722.80" y1="2186.50" x2="1754.80" y2="2186.50" stroke="#c01418" stroke-width="2.3" stroke-linecap="butt" />
<line x1="1722.80" y1="2202.10" x2="1754.80" y2="2202.10" stroke="#c01418" stroke-width="2.3" stroke-linecap="butt" />
<line x1="1834.30" y1="2189.40" x2="1834.30" y2="2204.40" stroke="#c01418" stroke-width="2.0" stroke-linecap="butt" />
<line x1="1818.30" y1="2189.40" x2="1850.30" y2="2189.40" stroke="#c01418" stroke-width="2.3" stroke-linecap="butt" />
<line x1="1818.30" y1="2204.40" x2="1850.30" y2="2204.40" stroke="#c01418" stroke-width="2.3" stroke-linecap="butt" />
<line x1="1929.80" y1="2099.60" x2="1929.80" y2="2123.80" stroke="#c01418" stroke-width="2.0" stroke-linecap="butt" />
<line x1="1913.80" y1="2099.60" x2="1945.80" y2="2099.60" stroke="#c01418" stroke-width="2.3" stroke-linecap="butt" />
<line x1="1913.80" y1="2123.80" x2="1945.80" y2="2123.80" stroke="#c01418" stroke-width="2.3" stroke-linecap="butt" />
<circle cx="1739.30" cy="2146.80" r="5.0" fill="#f38080"/>
<circle cx="1739.30" cy="2161.10" r="5.0" fill="#f38080"/>
<circle cx="1739.30" cy="2177.90" r="5.0" fill="#f38080"/>
<circle cx="1725.90" cy="2198.70" r="5.0" fill="#f38080"/>
<circle cx="1752.40" cy="2201.00" r="5.0" fill="#f38080"/>
<circle cx="1739.30" cy="2195.00" r="5.0" fill="#f38080"/>
<circle cx="1725.90" cy="2211.80" r="5.0" fill="#f38080"/>
<circle cx="1739.30" cy="2213.60" r="5.0" fill="#f38080"/>
<circle cx="1725.90" cy="2218.20" r="5.0" fill="#f38080"/>
<circle cx="1752.40" cy="2217.80" r="5.0" fill="#f38080"/>
<circle cx="1827.70" cy="2179.50" r="5.0" fill="#f38080"/>
<circle cx="1840.60" cy="2181.40" r="5.0" fill="#f38080"/>
<circle cx="1834.20" cy="2199.80" r="5.0" fill="#f38080"/>
<circle cx="1834.20" cy="2206.30" r="5.0" fill="#f38080"/>
<circle cx="1834.20" cy="2214.10" r="5.0" fill="#f38080"/>
<circle cx="1929.80" cy="2046.50" r="5.0" fill="#f38080"/>
<circle cx="1929.80" cy="2062.20" r="5.0" fill="#f38080"/>
<circle cx="1923.40" cy="2091.10" r="5.0" fill="#f38080"/>
<circle cx="1936.30" cy="2092.70" r="5.0" fill="#f38080"/>
<circle cx="1929.80" cy="2110.00" r="5.0" fill="#f38080"/>
<circle cx="1923.40" cy="2120.30" r="5.0" fill="#f38080"/>
<circle cx="1936.30" cy="2119.20" r="5.0" fill="#f38080"/>
<circle cx="1923.40" cy="2133.50" r="5.0" fill="#f38080"/>
<circle cx="1936.30" cy="2130.20" r="5.0" fill="#f38080"/>
<circle cx="1923.40" cy="2164.10" r="5.0" fill="#f38080"/>
<circle cx="1936.30" cy="2159.50" r="5.0" fill="#f38080"/>
<line x1="1706.50" y1="2194.50" x2="1771.10" y2="2194.50" stroke="#dc0c10" stroke-width="4.1" stroke-linecap="butt" />
<line x1="1802.00" y1="2197.00" x2="1866.60" y2="2197.00" stroke="#dc0c10" stroke-width="4.1" stroke-linecap="butt" />
<line x1="1897.50" y1="2111.80" x2="1962.10" y2="2111.80" stroke="#dc0c10" stroke-width="4.1" stroke-linecap="butt" />
<line x1="1730.50" y1="1853.00" x2="1926.40" y2="1853.00" stroke="#000" stroke-width="4.8" stroke-linecap="butt" />
<line x1="1818.10" y1="1958.50" x2="1929.80" y2="1958.50" stroke="#000" stroke-width="4.8" stroke-linecap="butt" />
<line x1="1727.70" y1="2039.40" x2="1830.70" y2="2039.40" stroke="#000" stroke-width="4.8" stroke-linecap="butt" /></g>
<g id="texts"><text id="a_lbl" class="t" transform="translate(2.57,24.05) scale(1.0776,1)" style="font-family:'Liberation Sans','Liberation Sans',sans-serif;font-size:31.04px;font-weight:bold;font-style:normal" fill="#000" text-anchor="start">a)</text>
<text id="a_t0" class="t" transform="translate(489.00,745.40)" style="font-family:'Liberation Sans','Liberation Sans',sans-serif;font-size:43.00px;font-weight:bold;font-style:normal" fill="#000" text-anchor="end">0</text>
<text id="a_t1" class="t" transform="translate(489.00,533.30)" style="font-family:'Liberation Sans','Liberation Sans',sans-serif;font-size:43.00px;font-weight:bold;font-style:normal" fill="#000" text-anchor="end">1</text>
<text id="a_t2" class="t" transform="translate(489.00,321.20)" style="font-family:'Liberation Sans','Liberation Sans',sans-serif;font-size:43.00px;font-weight:bold;font-style:normal" fill="#000" text-anchor="end">2</text>
<text id="a_t3" class="t" transform="translate(489.00,109.10)" style="font-family:'Liberation Sans','Liberation Sans',sans-serif;font-size:43.00px;font-weight:bold;font-style:normal" fill="#000" text-anchor="end">3</text>
<text id="a_ylab" class="t" transform="translate(428.10,503.19) rotate(-90) scale(1.0511,1)" style="font-family:'Liberation Sans','Liberation Sans',sans-serif;font-size:31.03px;font-weight:bold;font-style:normal" fill="#000" text-anchor="start">FFon/FFoff</text>
<text id="a_leg1" class="t" transform="translate(1348.57,110.11) scale(0.9389,1)" style="font-family:'Liberation Sans','Liberation Sans',sans-serif;font-size:42.90px;font-weight:normal;font-style:normal" fill="#000" text-anchor="start">BL</text>
<text id="a_leg2" class="t" transform="translate(1348.71,174.90) scale(0.9583,1)" style="font-family:'Liberation Sans','Liberation Sans',sans-serif;font-size:41.13px;font-weight:normal;font-style:normal" fill="#000" text-anchor="start">BL+MF</text>
<text id="a_x1" class="t" transform="translate(469.62,916.81) rotate(-45)" style="font-family:'Liberation Sans','Liberation Sans',sans-serif;font-size:36.40px;font-weight:normal;font-style:italic" fill="#000" text-anchor="start">UAS-Dmcry</text>
<text id="a_x2" class="t" transform="translate(619.43,928.41) rotate(-45)" style="font-family:'Liberation Sans','Liberation Sans',sans-serif;font-size:36.97px;font-weight:normal;font-style:italic" fill="#000" text-anchor="start">UAS-Luc-CT</text>
<text id="a_x3" class="t" transform="translate(717.77,987.60) rotate(-45)" style="font-family:'Liberation Sans','Liberation Sans',sans-serif;font-size:36.53px;font-weight:normal;font-style:italic" fill="#000" text-anchor="start">UAS-Luc-CT<tspan dx="-0.176em" dy="-0.382em" style="font-size:0.794em;font-style:normal">W536F</tspan></text>
<text id="a_x4" class="t" transform="translate(895.93,977.04) rotate(-45)" style="font-family:'Liberation Sans','Liberation Sans',sans-serif;font-size:35.28px;font-weight:normal;font-style:italic" fill="#000" text-anchor="start">UAS-Dmcry<tspan dx="-0.088em" dy="-0.500em" style="font-size:0.794em;font-style:normal">V531K</tspan></text>
<text id="a_x5" class="t" transform="translate(1117.46,920.12) rotate(-45)" style="font-family:'Liberation Sans','Liberation Sans',sans-serif;font-size:35.63px;font-weight:normal;font-style:italic" fill="#000" text-anchor="start">UAS-Ercry4</text>
<text id="a_x6" class="t" transform="translate(1293.46,907.55) rotate(-45)" style="font-family:'Liberation Sans','Liberation Sans',sans-serif;font-size:35.58px;font-weight:normal;font-style:italic" fill="#000" text-anchor="start">elav-GAL4</text>
<text id="b_lbl" class="t" transform="translate(23.20,1073.45) scale(1.0564,1)" style="font-family:'Liberation Sans','Liberation Sans',sans-serif;font-size:31.28px;font-weight:bold;font-style:normal" fill="#000" text-anchor="start">b)</text>
<text id="c_lbl" class="t" transform="translate(1069.34,1073.30) scale(1.0129,1)" style="font-family:'Liberation Sans','Liberation Sans',sans-serif;font-size:32.00px;font-weight:bold;font-style:normal" fill="#000" text-anchor="start">c)</text>
<text id="b_title" class="t" transform="translate(305.71,1084.83) scale(0.9645,1)" style="font-family:'Liberation Sans','Liberation Sans',sans-serif;font-size:34.06px;font-weight:bold;font-style:italic" fill="#000" text-anchor="start">w; UAS-Dmcry; Dmcry<tspan dy="-9.5" font-size="20">02</tspan><tspan dy="9.5">/Dmcry</tspan><tspan dy="-9.5" font-size="20">03</tspan></text>
<text id="c_title" class="t" transform="translate(1349.95,1084.83) scale(0.9708,1)" style="font-family:'Liberation Sans','Liberation Sans',sans-serif;font-size:34.06px;font-weight:bold;font-style:italic" fill="#000" text-anchor="start">w; UAS-Luc-CT; Dmcry<tspan dy="-9.5" font-size="20">02</tspan><tspan dy="9.5">/Dmcry</tspan><tspan dy="-9.5" font-size="20">03</tspan></text>
<text id="bi_t400" class="t" transform="translate(130.30,1154.70)" style="font-family:'Liberation Sans','Liberation Sans',sans-serif;font-size:33.00px;font-weight:bold;font-style:normal" fill="#000" text-anchor="end">400</text>
<text id="bi_t300" class="t" transform="translate(130.30,1258.80)" style="font-family:'Liberation Sans','Liberation Sans',sans-serif;font-size:33.00px;font-weight:bold;font-style:normal" fill="#000" text-anchor="end">300</text>
<text id="bi_t200" class="t" transform="translate(130.30,1362.90)" style="font-family:'Liberation Sans','Liberation Sans',sans-serif;font-size:33.00px;font-weight:bold;font-style:normal" fill="#000" text-anchor="end">200</text>
<text id="bi_t100" class="t" transform="translate(130.30,1467.00)" style="font-family:'Liberation Sans','Liberation Sans',sans-serif;font-size:33.00px;font-weight:bold;font-style:normal" fill="#000" text-anchor="end">100</text>
<text id="bi_t0" class="t" transform="translate(130.30,1571.10)" style="font-family:'Liberation Sans','Liberation Sans',sans-serif;font-size:33.00px;font-weight:bold;font-style:normal" fill="#000" text-anchor="end">0</text>
<text id="bi_ns1" class="t" transform="translate(331.70,1280.50)" style="font-family:'Liberation Sans','Liberation Sans',sans-serif;font-size:32.00px;font-weight:bold;font-style:normal" fill="#000" text-anchor="start">ns</text>
<text id="bi_ns2" class="t" transform="translate(801.00,1274.60)" style="font-family:'Liberation Sans','Liberation Sans',sans-serif;font-size:32.00px;font-weight:bold;font-style:normal" fill="#000" text-anchor="start">ns</text>
<text id="bi_ns3" class="t" transform="translate(471.60,1211.10)" style="font-family:'Liberation Sans','Liberation Sans',sans-serif;font-size:32.00px;font-weight:bold;font-style:normal" fill="#767676" text-anchor="start">ns</text>
<text id="bi_ns4" class="t" transform="translate(645.00,1151.40)" style="font-family:'Liberation Sans','Liberation Sans',sans-serif;font-size:32.00px;font-weight:bold;font-style:normal" fill="#632d8b" text-anchor="start">ns</text>
<text id="bi_i" class="t" transform="translate(34.29,1155.88) scale(0.9645,1)" style="font-family:'Liberation Sans','Liberation Sans',sans-serif;font-size:41.45px;font-weight:normal;font-style:italic" fill="#000" text-anchor="start">(i)</text>
<text id="bi_ylab" class="t" transform="translate(66.55,1330.51) rotate(-90) scale(0.9214,1)" style="font-family:'Liberation Sans','Liberation Sans',sans-serif;font-size:39.67px;font-weight:bold;font-style:normal" fill="#000" text-anchor="start">#AP</text>
<text id="bi_xb1" class="t" transform="translate(201.00,1595.80)" style="font-family:'Liberation Sans','Liberation Sans',sans-serif;font-size:32.00px;font-weight:bold;font-style:normal" fill="#000" text-anchor="start">Before</text>
<text id="bi_xd1" class="t" transform="translate(384.30,1595.00)" style="font-family:'Liberation Sans','Liberation Sans',sans-serif;font-size:32.00px;font-weight:bold;font-style:normal" fill="#000" text-anchor="start">During</text>
<text id="bi_xl1" class="t" transform="translate(414.30,1631.50)" style="font-family:'Liberation Sans','Liberation Sans',sans-serif;font-size:32.00px;font-weight:bold;font-style:normal" fill="#000" text-anchor="start">BL</text>
<text id="bi_xb2" class="t" transform="translate(664.50,1597.30)" style="font-family:'Liberation Sans','Liberation Sans',sans-serif;font-size:32.00px;font-weight:bold;font-style:normal" fill="#000" text-anchor="start">Before</text>
<text id="bi_xd2" class="t" transform="translate(845.60,1598.50)" style="font-family:'Liberation Sans','Liberation Sans',sans-serif;font-size:32.00px;font-weight:bold;font-style:normal" fill="#000" text-anchor="start">During</text>
<text id="bi_xl2" class="t" transform="translate(843.40,1637.90)" style="font-family:'Liberation Sans','Liberation Sans',sans-serif;font-size:32.00px;font-weight:bold;font-style:normal" fill="#000" text-anchor="start">BL+MF</text>
<text id="ci_t400" class="t" transform="translate(1178.90,1163.40)" style="font-family:'Liberation Sans','Liberation Sans',sans-serif;font-size:33.00px;font-weight:bold;font-style:normal" fill="#000" text-anchor="end">400</text>
<text id="ci_t300" class="t" transform="translate(1178.90,1264.10)" style="font-family:'Liberation Sans','Liberation Sans',sans-serif;font-size:33.00px;font-weight:bold;font-style:normal" fill="#000" text-anchor="end">300</text>
<text id="ci_t200" class="t" transform="translate(1178.90,1364.80)" style="font-family:'Liberation Sans','Liberation Sans',sans-serif;font-size:33.00px;font-weight:bold;font-style:normal" fill="#000" text-anchor="end">200</text>
<text id="ci_t100" class="t" transform="translate(1178.90,1465.50)" style="font-family:'Liberation Sans','Liberation Sans',sans-serif;font-size:33.00px;font-weight:bold;font-style:normal" fill="#000" text-anchor="end">100</text>
<text id="ci_t0" class="t" transform="translate(1178.90,1566.20)" style="font-family:'Liberation Sans','Liberation Sans',sans-serif;font-size:33.00px;font-weight:bold;font-style:normal" fill="#000" text-anchor="end">0</text>
<text id="ci_ns1" class="t" transform="translate(1373.90,1282.50)" style="font-family:'Liberation Sans','Liberation Sans',sans-serif;font-size:32.00px;font-weight:bold;font-style:normal" fill="#000" text-anchor="start">ns</text>
<text id="ci_ns2" class="t" transform="translate(1843.80,1277.90)" style="font-family:'Liberation Sans','Liberation Sans',sans-serif;font-size:32.00px;font-weight:bold;font-style:normal" fill="#000" text-anchor="start">ns</text>
<text id="ci_ns3" class="t" transform="translate(1513.00,1212.60)" style="font-family:'Liberation Sans','Liberation Sans',sans-serif;font-size:32.00px;font-weight:bold;font-style:normal" fill="#767676" text-anchor="start">ns</text>
<text id="ci_ns4" class="t" transform="translate(1691.70,1151.60)" style="font-family:'Liberation Sans','Liberation Sans',sans-serif;font-size:32.00px;font-weight:bold;font-style:normal" fill="#632d8b" text-anchor="start">ns</text>
<text id="ci_i" class="t" transform="translate(1078.89,1162.73) scale(1.0151,1)" style="font-family:'Liberation Sans','Liberation Sans',sans-serif;font-size:39.30px;font-weight:normal;font-style:italic" fill="#000" text-anchor="start">(i)</text>
<text id="ci_ylab" class="t" transform="translate(1113.63,1337.94) rotate(-90) scale(0.9156,1)" style="font-family:'Liberation Sans','Liberation Sans',sans-serif;font-size:38.30px;font-weight:bold;font-style:normal" fill="#000" text-anchor="start">#AP</text>
<text id="ci_xb1" class="t" transform="translate(1256.40,1594.20)" style="font-family:'Liberation Sans','Liberation Sans',sans-serif;font-size:32.00px;font-weight:bold;font-style:normal" fill="#000" text-anchor="start">Before</text>
<text id="ci_xd1" class="t" transform="translate(1441.00,1590.00)" style="font-family:'Liberation Sans','Liberation Sans',sans-serif;font-size:32.00px;font-weight:bold;font-style:normal" fill="#000" text-anchor="start">During</text>
<text id="ci_xl1" class="t" transform="translate(1470.50,1631.10)" style="font-family:'Liberation Sans','Liberation Sans',sans-serif;font-size:32.00px;font-weight:bold;font-style:normal" fill="#000" text-anchor="start">BL</text>
<text id="ci_xb2" class="t" transform="translate(1710.40,1592.80)" style="font-family:'Liberation Sans','Liberation Sans',sans-serif;font-size:32.00px;font-weight:bold;font-style:normal" fill="#000" text-anchor="start">Before</text>
<text id="ci_xd2" class="t" transform="translate(1895.30,1589.70)" style="font-family:'Liberation Sans','Liberation Sans',sans-serif;font-size:32.00px;font-weight:bold;font-style:normal" fill="#000" text-anchor="start">During</text>
<text id="ci_xl2" class="t" transform="translate(1892.30,1629.00)" style="font-family:'Liberation Sans','Liberation Sans',sans-serif;font-size:32.00px;font-weight:bold;font-style:normal" fill="#000" text-anchor="start">BL+MF</text>
<text id="bii_t0" class="t" transform="translate(113.70,2365.80)" style="font-family:'Liberation Sans','Liberation Sans',sans-serif;font-size:30.50px;font-weight:bold;font-style:normal" fill="#000" text-anchor="end">0</text>
<text id="bii_t1" class="t" transform="translate(113.70,2265.80)" style="font-family:'Liberation Sans','Liberation Sans',sans-serif;font-size:30.50px;font-weight:bold;font-style:normal" fill="#000" text-anchor="end">1</text>
<text id="bii_t2" class="t" transform="translate(113.70,2165.80)" style="font-family:'Liberation Sans','Liberation Sans',sans-serif;font-size:30.50px;font-weight:bold;font-style:normal" fill="#000" text-anchor="end">2</text>
<text id="bii_t3" class="t" transform="translate(113.70,2065.80)" style="font-family:'Liberation Sans','Liberation Sans',sans-serif;font-size:30.50px;font-weight:bold;font-style:normal" fill="#000" text-anchor="end">3</text>
<text id="bii_t4" class="t" transform="translate(113.70,1965.80)" style="font-family:'Liberation Sans','Liberation Sans',sans-serif;font-size:30.50px;font-weight:bold;font-style:normal" fill="#000" text-anchor="end">4</text>
<text id="bii_t5" class="t" transform="translate(113.70,1865.80)" style="font-family:'Liberation Sans','Liberation Sans',sans-serif;font-size:30.50px;font-weight:bold;font-style:normal" fill="#000" text-anchor="end">5</text>
<text id="bii_s1" class="t" transform="translate(256.45,1983.55)" style="font-family:'DejaVu Sans','Liberation Sans',sans-serif;font-size:32.01px;font-weight:bold;font-style:normal;letter-spacing:3.45px" fill="#000" text-anchor="start">****</text>
<text id="bii_s2" class="t" transform="translate(217.58,2087.59) scale(0.9441,1)" style="font-family:'Liberation Sans','Liberation Sans',sans-serif;font-size:27.63px;font-weight:normal;font-style:normal" fill="#000" text-anchor="start">ns</text>
<text id="bii_s3" class="t" transform="translate(316.30,2098.19)" style="font-family:'DejaVu Sans','Liberation Sans',sans-serif;font-size:33.20px;font-weight:bold;font-style:normal;letter-spacing:2.50px" fill="#000" text-anchor="start">***</text>
<text id="bii_ylab" class="t" transform="translate(77.94,2185.23) rotate(-90) scale(1.1341,1)" style="font-family:'Liberation Sans','Liberation Sans',sans-serif;font-size:28.88px;font-weight:bold;font-style:normal" fill="#000" text-anchor="start">FFon/FFoff</text>
<text id="bii_x1" class="t" transform="translate(158.92,2446.76) rotate(-45)" style="font-family:'Liberation Sans','Liberation Sans',sans-serif;font-size:27.40px;font-weight:normal;font-style:italic" fill="#000" text-anchor="start">GAL4</text>
<text id="bii_x2" class="t" transform="translate(266.57,2435.20) rotate(-45)" style="font-family:'Liberation Sans','Liberation Sans',sans-serif;font-size:27.40px;font-weight:normal;font-style:italic" fill="#000" text-anchor="start">UAS</text>
<text id="bii_x3" class="t" transform="translate(300.24,2498.60) rotate(-45)" style="font-family:'Liberation Sans','Liberation Sans',sans-serif;font-size:27.40px;font-weight:normal;font-style:italic" fill="#000" text-anchor="start">Gal4 &gt; UAS</text>
<text id="bii_h1" class="t" transform="translate(63.65,1731.52) scale(1.0120,1)" style="font-family:'Liberation Sans','Liberation Sans',sans-serif;font-size:40.57px;font-weight:normal;font-style:italic" fill="#000" text-anchor="start">(ii)</text>
<text id="bii_h2" class="t" transform="translate(128.46,1729.70) scale(0.9423,1)" style="font-family:'Liberation Sans','Liberation Sans',sans-serif;font-size:35.56px;font-weight:bold;font-style:normal" fill="#000" text-anchor="start">Controls <tspan font-style="italic">vs</tspan> <tspan font-style="italic">Dm</tspan>CRY</text>
<text id="bii_h3" class="t" transform="translate(267.27,1778.47) scale(0.8989,1)" style="font-family:'Liberation Sans','Liberation Sans',sans-serif;font-size:33.69px;font-weight:bold;font-style:normal" fill="#000" text-anchor="start">BL</text>
<text id="biii_t0" class="t" transform="translate(583.70,2368.80)" style="font-family:'Liberation Sans','Liberation Sans',sans-serif;font-size:30.50px;font-weight:bold;font-style:normal" fill="#000" text-anchor="end">0</text>
<text id="biii_t1" class="t" transform="translate(583.70,2269.00)" style="font-family:'Liberation Sans','Liberation Sans',sans-serif;font-size:30.50px;font-weight:bold;font-style:normal" fill="#000" text-anchor="end">1</text>
<text id="biii_t2" class="t" transform="translate(583.70,2169.20)" style="font-family:'Liberation Sans','Liberation Sans',sans-serif;font-size:30.50px;font-weight:bold;font-style:normal" fill="#000" text-anchor="end">2</text>
<text id="biii_t3" class="t" transform="translate(583.70,2069.40)" style="font-family:'Liberation Sans','Liberation Sans',sans-serif;font-size:30.50px;font-weight:bold;font-style:normal" fill="#000" text-anchor="end">3</text>
<text id="biii_t4" class="t" transform="translate(583.70,1969.60)" style="font-family:'Liberation Sans','Liberation Sans',sans-serif;font-size:30.50px;font-weight:bold;font-style:normal" fill="#000" text-anchor="end">4</text>
<text id="biii_t5" class="t" transform="translate(583.70,1869.80)" style="font-family:'Liberation Sans','Liberation Sans',sans-serif;font-size:30.50px;font-weight:bold;font-style:normal" fill="#000" text-anchor="end">5</text>
<text id="biii_s1" class="t" transform="translate(722.47,1885.22)" style="font-family:'DejaVu Sans','Liberation Sans',sans-serif;font-size:33.13px;font-weight:bold;font-style:normal;letter-spacing:3.06px" fill="#000" text-anchor="start">****</text>
<text id="biii_s2" class="t" transform="translate(778.29,1966.12)" style="font-family:'DejaVu Sans','Liberation Sans',sans-serif;font-size:33.91px;font-weight:bold;font-style:normal;letter-spacing:2.51px" fill="#000" text-anchor="start">****</text>
<text id="biii_s3" class="t" transform="translate(696.95,2048.54) scale(0.9584,1)" style="font-family:'Liberation Sans','Liberation Sans',sans-serif;font-size:27.72px;font-weight:normal;font-style:normal" fill="#000" text-anchor="start">ns</text>
<text id="biii_ylab" class="t" transform="translate(546.59,2187.42) rotate(-90) scale(1.1259,1)" style="font-family:'Liberation Sans','Liberation Sans',sans-serif;font-size:28.91px;font-weight:bold;font-style:normal" fill="#000" text-anchor="start">FFon/FFoff</text>
<text id="biii_x1" class="t" transform="translate(628.06,2447.68) rotate(-45)" style="font-family:'Liberation Sans','Liberation Sans',sans-serif;font-size:27.60px;font-weight:normal;font-style:italic" fill="#000" text-anchor="start">GAL4</text>
<text id="biii_x2" class="t" transform="translate(735.12,2437.98) rotate(-45)" style="font-family:'Liberation Sans','Liberation Sans',sans-serif;font-size:27.60px;font-weight:normal;font-style:italic" fill="#000" text-anchor="start">UAS</text>
<text id="biii_x3" class="t" transform="translate(768.80,2502.00) rotate(-45)" style="font-family:'Liberation Sans','Liberation Sans',sans-serif;font-size:27.60px;font-weight:normal;font-style:italic" fill="#000" text-anchor="start">Gal4 &gt; UAS</text>
<text id="biii_h1" class="t" transform="translate(531.67,1730.89) scale(1.0047,1)" style="font-family:'Liberation Sans','Liberation Sans',sans-serif;font-size:40.55px;font-weight:normal;font-style:italic" fill="#000" text-anchor="start">(iii)</text>
<text id="biii_h2" class="t" transform="translate(591.74,1729.69) scale(1.0240,1)" style="font-family:'Liberation Sans','Liberation Sans',sans-serif;font-size:32.83px;font-weight:bold;font-style:normal" fill="#000" text-anchor="start">Controls <tspan font-style="italic">vs</tspan> <tspan font-style="italic">Dm</tspan>CRY</text>
<text id="biii_h3" class="t" transform="translate(693.97,1778.44) scale(0.9499,1)" style="font-family:'Liberation Sans','Liberation Sans',sans-serif;font-size:35.56px;font-weight:bold;font-style:normal" fill="#000" text-anchor="start">BL+MF</text>
<text id="cii_t0" class="t" transform="translate(1181.10,2318.10)" style="font-family:'Liberation Sans','Liberation Sans',sans-serif;font-size:30.50px;font-weight:bold;font-style:normal" fill="#000" text-anchor="end">0</text>
<text id="cii_t1" class="t" transform="translate(1181.10,2221.70)" style="font-family:'Liberation Sans','Liberation Sans',sans-serif;font-size:30.50px;font-weight:bold;font-style:normal" fill="#000" text-anchor="end">1</text>
<text id="cii_t2" class="t" transform="translate(1181.10,2125.30)" style="font-family:'Liberation Sans','Liberation Sans',sans-serif;font-size:30.50px;font-weight:bold;font-style:normal" fill="#000" text-anchor="end">2</text>
<text id="cii_t3" class="t" transform="translate(1181.10,2028.90)" style="font-family:'Liberation Sans','Liberation Sans',sans-serif;font-size:30.50px;font-weight:bold;font-style:normal" fill="#000" text-anchor="end">3</text>
<text id="cii_t4" class="t" transform="translate(1181.10,1932.50)" style="font-family:'Liberation Sans','Liberation Sans',sans-serif;font-size:30.50px;font-weight:bold;font-style:normal" fill="#000" text-anchor="end">4</text>
<text id="cii_t5" class="t" transform="translate(1181.10,1836.10)" style="font-family:'Liberation Sans','Liberation Sans',sans-serif;font-size:30.50px;font-weight:bold;font-style:normal" fill="#000" text-anchor="end">5</text>
<text id="cii_s1" class="t" transform="translate(1352.13,1911.98)" style="font-family:'DejaVu Sans','Liberation Sans',sans-serif;font-size:30.64px;font-weight:bold;font-style:normal;letter-spacing:0.00px" fill="#000" text-anchor="start">*</text>
<text id="cii_s2" class="t" transform="translate(1292.75,2003.71) scale(0.9231,1)" style="font-family:'Liberation Sans','Liberation Sans',sans-serif;font-size:27.82px;font-weight:normal;font-style:normal" fill="#000" text-anchor="start">ns</text>
<text id="cii_s3" class="t" transform="translate(1415.26,2013.59)" style="font-family:'DejaVu Sans','Liberation Sans',sans-serif;font-size:30.66px;font-weight:bold;font-style:normal;letter-spacing:0.00px" fill="#000" text-anchor="start">*</text>
<text id="cii_ylab" class="t" transform="translate(1145.78,2143.03) rotate(-90) scale(1.0408,1)" style="font-family:'Liberation Sans','Liberation Sans',sans-serif;font-size:30.16px;font-weight:bold;font-style:normal" fill="#000" text-anchor="start">FFon/FFoff</text>
<text id="cii_x1" class="t" transform="translate(1225.45,2396.03) rotate(-45)" style="font-family:'Liberation Sans','Liberation Sans',sans-serif;font-size:26.20px;font-weight:normal;font-style:italic" fill="#000" text-anchor="start">GAL4</text>
<text id="cii_x2" class="t" transform="translate(1331.64,2384.29) rotate(-45)" style="font-family:'Liberation Sans','Liberation Sans',sans-serif;font-size:26.20px;font-weight:normal;font-style:italic" fill="#000" text-anchor="start">UAS</text>
<text id="cii_x3" class="t" transform="translate(1358.20,2454.51) rotate(-45)" style="font-family:'Liberation Sans','Liberation Sans',sans-serif;font-size:26.20px;font-weight:normal;font-style:italic" fill="#000" text-anchor="start">GAL4 &gt; UAS</text>
<text id="cii_h1" class="t" transform="translate(1098.44,1737.32) scale(1.0083,1)" style="font-family:'Liberation Sans','Liberation Sans',sans-serif;font-size:40.56px;font-weight:normal;font-style:italic" fill="#000" text-anchor="start">(ii)</text>
<text id="cii_h2" class="t" transform="translate(1197.76,1732.40) scale(0.9290,1)" style="font-family:'Liberation Sans','Liberation Sans',sans-serif;font-size:35.56px;font-weight:bold;font-style:normal" fill="#000" text-anchor="start">Controls <tspan font-style="italic">vs</tspan> Luc-CT</text>
<text id="cii_h3" class="t" transform="translate(1330.27,1781.40) scale(0.9408,1)" style="font-family:'Liberation Sans','Liberation Sans',sans-serif;font-size:32.19px;font-weight:bold;font-style:normal" fill="#000" text-anchor="start">BL</text>
<text id="ciii_t0" class="t" transform="translate(1654.50,2318.10)" style="font-family:'Liberation Sans','Liberation Sans',sans-serif;font-size:30.50px;font-weight:bold;font-style:normal" fill="#000" text-anchor="end">0</text>
<text id="ciii_t1" class="t" transform="translate(1654.50,2222.25)" style="font-family:'Liberation Sans','Liberation Sans',sans-serif;font-size:30.50px;font-weight:bold;font-style:normal" fill="#000" text-anchor="end">1</text>
<text id="ciii_t2" class="t" transform="translate(1654.50,2126.40)" style="font-family:'Liberation Sans','Liberation Sans',sans-serif;font-size:30.50px;font-weight:bold;font-style:normal" fill="#000" text-anchor="end">2</text>
<text id="ciii_t3" class="t" transform="translate(1654.50,2030.55)" style="font-family:'Liberation Sans','Liberation Sans',sans-serif;font-size:30.50px;font-weight:bold;font-style:normal" fill="#000" text-anchor="end">3</text>
<text id="ciii_t4" class="t" transform="translate(1654.50,1934.70)" style="font-family:'Liberation Sans','Liberation Sans',sans-serif;font-size:30.50px;font-weight:bold;font-style:normal" fill="#000" text-anchor="end">4</text>
<text id="ciii_t5" class="t" transform="translate(1654.50,1838.85)" style="font-family:'Liberation Sans','Liberation Sans',sans-serif;font-size:30.50px;font-weight:bold;font-style:normal" fill="#000" text-anchor="end">5</text>
<text id="ciii_s1" class="t" transform="translate(1791.65,1847.06)" style="font-family:'DejaVu Sans','Liberation Sans',sans-serif;font-size:32.58px;font-weight:bold;font-style:normal;letter-spacing:3.38px" fill="#000" text-anchor="start">****</text>
<text id="ciii_s2" class="t" transform="translate(1848.10,1952.02)" style="font-family:'DejaVu Sans','Liberation Sans',sans-serif;font-size:31.12px;font-weight:bold;font-style:normal;letter-spacing:3.44px" fill="#000" text-anchor="start">***</text>
<text id="ciii_s3" class="t" transform="translate(1765.97,2024.13) scale(0.9023,1)" style="font-family:'Liberation Sans','Liberation Sans',sans-serif;font-size:28.12px;font-weight:normal;font-style:normal" fill="#000" text-anchor="start">ns</text>
<text id="ciii_ylab" class="t" transform="translate(1618.60,2144.44) rotate(-90) scale(1.0871,1)" style="font-family:'Liberation Sans','Liberation Sans',sans-serif;font-size:28.88px;font-weight:bold;font-style:normal" fill="#000" text-anchor="start">FFon/FFoff</text>
<text id="ciii_x1" class="t" transform="translate(1698.32,2395.16) rotate(-45)" style="font-family:'Liberation Sans','Liberation Sans',sans-serif;font-size:26.30px;font-weight:normal;font-style:italic" fill="#000" text-anchor="start">GAL4</text>
<text id="ciii_x2" class="t" transform="translate(1804.06,2384.32) rotate(-45)" style="font-family:'Liberation Sans','Liberation Sans',sans-serif;font-size:26.30px;font-weight:normal;font-style:italic" fill="#000" text-anchor="start">UAS</text>
<text id="ciii_x3" class="t" transform="translate(1830.12,2453.46) rotate(-45)" style="font-family:'Liberation Sans','Liberation Sans',sans-serif;font-size:26.30px;font-weight:normal;font-style:italic" fill="#000" text-anchor="start">GAL4 &gt; UAS</text>
<text id="ciii_h1" class="t" transform="translate(1607.91,1731.44) scale(1.0432,1)" style="font-family:'Liberation Sans','Liberation Sans',sans-serif;font-size:38.26px;font-weight:normal;font-style:italic" fill="#000" text-anchor="start">(iii)</text>
<text id="ciii_h2" class="t" transform="translate(1673.77,1730.22) scale(0.9261,1)" style="font-family:'Liberation Sans','Liberation Sans',sans-serif;font-size:35.56px;font-weight:bold;font-style:normal" fill="#000" text-anchor="start">Controls <tspan font-style="italic">vs</tspan> Luc-CT</text>
<text id="ciii_h3" class="t" transform="translate(1768.49,1779.00) scale(0.9499,1)" style="font-family:'Liberation Sans','Liberation Sans',sans-serif;font-size:35.56px;font-weight:bold;font-style:normal" fill="#000" text-anchor="start">BL+MF</text></g></svg>
</body></html>
